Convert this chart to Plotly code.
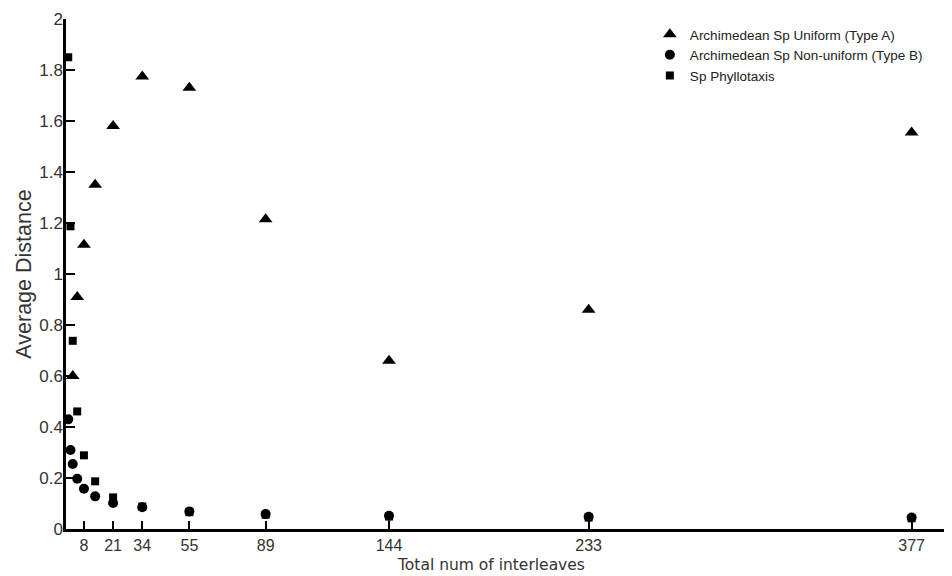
import plotly.graph_objects as go

x_a = [3, 5, 8, 13, 21, 34, 55, 89, 144, 233, 377]
y_a = [0.60, 0.91, 1.115, 1.35, 1.58, 1.775, 1.73, 1.215, 0.66, 0.86, 1.555]

x_b = [1, 2, 3, 5, 8, 13, 21, 34, 55, 89, 144, 233, 377]
y_b = [0.43, 0.31, 0.255, 0.197, 0.158, 0.128, 0.102, 0.085, 0.069, 0.059, 0.052, 0.048, 0.045]

x_p = [1, 2, 3, 5, 8, 13, 21, 34, 55, 89, 144, 233, 377]
y_p = [1.85, 1.187, 0.738, 0.461, 0.289, 0.187, 0.124, 0.088, 0.066, 0.056, 0.049, 0.045, 0.042]

x_ticks = [8, 21, 34, 55, 89, 144, 233, 377]
y_ticks = [0, 0.2, 0.4, 0.6, 0.8, 1, 1.2, 1.4, 1.6, 1.8, 2]
y_tick_text = ["0", "0.2", "0.4", "0.6", "0.8", "1", "1.2", "1.4", "1.6", "1.8", "2"]

fig = go.Figure()
fig.add_trace(go.Scatter(x=x_p, y=y_p, mode="markers", name="Sp Phyllotaxis",
                         marker=dict(symbol="square", size=8, color="black"), legendrank=3))
fig.add_trace(go.Scatter(x=x_b, y=y_b, mode="markers", name="Archimedean Sp Non-uniform (Type B)",
                         marker=dict(symbol="circle", size=10, color="black"), legendrank=2))
fig.add_trace(go.Scatter(x=x_a, y=y_a, mode="markers", name="Archimedean Sp Uniform (Type A)",
                         marker=dict(symbol="triangle-up", size=12, color="black"), legendrank=1))

font_fam = "Liberation Sans, Arial, sans-serif"
fig.update_layout(
    width=944, height=568,
    paper_bgcolor="white", plot_bgcolor="white",
    margin=dict(l=58, r=0, t=11, b=47),
    font=dict(family=font_fam, color="#333333"),
    showlegend=True,
    legend=dict(x=0.659, y=1.0, xanchor="left", yanchor="top",
                font=dict(size=13.5, color="#222222", family=font_fam),
                bgcolor="rgba(0,0,0,0)", itemwidth=30, tracegroupgap=0),
    xaxis=dict(range=[0, 395], tickvals=x_ticks, ticks="inside", ticklen=8, tickwidth=2,
               tickcolor="black", showline=True, linecolor="black", linewidth=2.5,
               showgrid=False, zeroline=False, automargin=False,
               tickfont=dict(size=16, color="#333333")),
    yaxis=dict(range=[0, 2], tickvals=y_ticks, ticktext=y_tick_text, ticks="inside", ticklen=9,
               tickwidth=2, tickcolor="black", showline=True, linecolor="black", linewidth=2.5,
               showgrid=False, zeroline=False, automargin=False, ticklabelstandoff=-3,
               tickfont=dict(size=17, color="#333333"),
               title=dict(text="Average Distance", font=dict(size=21.5, color="#333333"), standoff=2)),
    annotations=[dict(text="Total num of interleaves", xref="paper", yref="paper",
                      x=0.48, y=0, yshift=-36, xanchor="center", yanchor="middle",
                      showarrow=False,
                      font=dict(size=15.5, color="#333333", family="DejaVu Sans, Verdana, sans-serif"))],
)
fig.write_html("out.html")
